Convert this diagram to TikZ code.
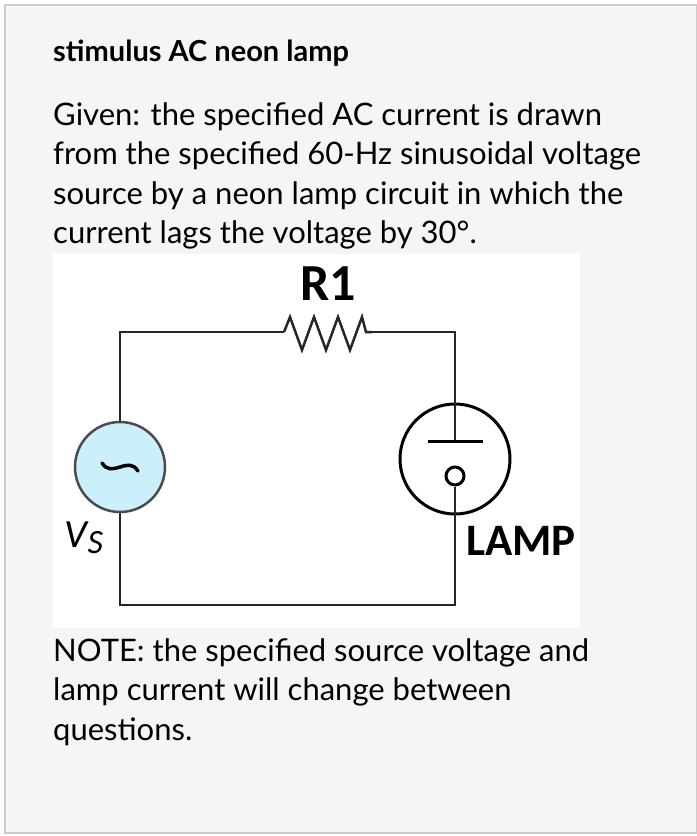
\documentclass[tikz,border=0pt]{standalone}
\usepackage{fontspec}
\setmainfont{Lato}
\newfontfamily\carlito{Carlito}
\usetikzlibrary{positioning}

\begin{document}
\begin{tikzpicture}[x=1bp, y=-1bp,
  txt/.style={anchor=north west, inner sep=0pt, align=left, font=\fontsize{31bp}{39.5bp}\selectfont},
  lbl/.style={inner sep=0pt, font=\fontsize{45bp}{45bp}\carlito\bfseries},
  wire/.style={line width=2.5bp, black!85}
]
\useasboundingbox (0,0) rectangle (697,836);
\fill[white] (0,0) rectangle (697,836);
\draw[black!20, line width=1.5bp, fill=black!4] (5,5) rectangle (697,833);

% Texts
\node[txt, font=\fontsize{29bp}{30bp}\selectfont\bfseries] (title) at (53,40) {stimulus AC neon lamp};
\node[txt] (given) at (53,102) {Given: the specified AC current is drawn\\
from the specified 60-Hz sinusoidal voltage\\
source by a neon lamp circuit in which the\\
current lags the voltage by 30°.};
\node[txt] (note) at (53,638) {NOTE: the specified source voltage and\\
lamp current will change between\\
questions.};

% Circuit
\fill[white] (53,254) rectangle (580,628);
\coordinate (tl) at (120,332);
\coordinate (tr) at (455,332);
\coordinate (bl) at (120,605);
\coordinate (br) at (455,605);
\coordinate (ra) at (284,332);
\coordinate (rb) at (372,332);
\node[circle, draw=black!70, line width=2.5bp, fill=cyan!20, minimum size=90bp] (src) at (120,467) {};
\draw[line width=3.5bp, line cap=round] ([xshift=-18bp,yshift=4bp]src.center) .. controls ([xshift=-8bp,yshift=-12bp]src.center) and ([xshift=8bp,yshift=12bp]src.center) .. ([xshift=18bp,yshift=-4bp]src.center);
\node[circle, draw, line width=3bp, minimum size=110bp] (lamp) at (455,459) {};
\node[circle, draw, line width=3bp, minimum size=18bp, inner sep=0pt] (dot) at (455,476) {};
\coordinate (pl) at (428,441);
\coordinate (pr) at (483,441);

\draw[wire] (src.north) -- (tl) -- (ra);
\draw[wire] (ra) -- (290,317) -- (302,350) -- (314,317) -- (326,350) -- (338,317) -- (350,350) -- (362,317) -- (366,332) -- (rb);
\draw[wire] (rb) -- (tr) -- (pr -| tr);
\draw[wire] (src.south) -- (bl) -- (br) -- (dot.south);
\draw[line width=3bp] (pl) -- (pr);

\node[lbl, font=\fontsize{52bp}{52bp}\carlito\bfseries] (r1) at (328,284) {R1};
\node[lbl, font=\fontsize{40bp}{40bp}\carlito\itshape] (vs) at (84,538) {V\raisebox{-6bp}{\fontsize{34bp}{34bp}\selectfont S}};
\node[lbl, anchor=west] (lbllamp) at (466,541) {LAMP};
\end{tikzpicture}
\end{document}
